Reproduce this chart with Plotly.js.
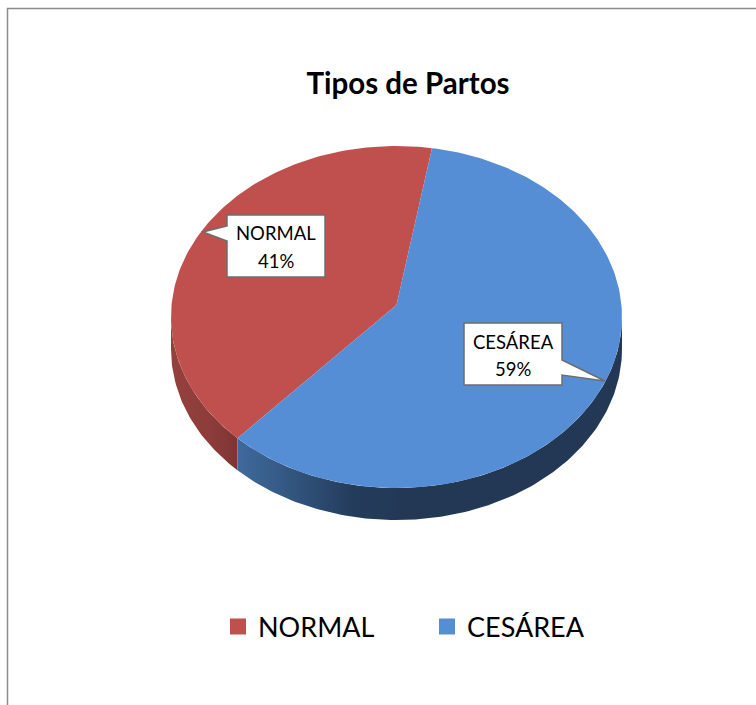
<!DOCTYPE html>
<html><head><meta charset="utf-8">
<script src="https://cdn.plot.ly/plotly-3.0.1.min.js"></script>
<style>html,body{margin:0;padding:0;background:#fff}</style></head>
<body><div id="chart" style="width:756px;height:705px"></div>
<script>
const categories = ['NORMAL', 'CESÁREA'];
const shares = [41, 59];
const sliceColors = ['#C0504D', '#558ED5'];
const titleText = 'Tipos de Partos';

// Tilted disc drawn on pixel-scaled axes
const CX = 396.5, CY = 317, RX = 225.5, RY = 171, DEPTH = 32, TILT = -0.07, START = 9.7;
function project(deg, drop) {
  const t = deg * Math.PI / 180, u = Math.sin(t), v = -Math.cos(t);
  const w = 1 + TILT * v;
  return [CX + RX * u * Math.sqrt(1 - TILT * TILT) / w, CY + RY * (v + TILT) / w + (drop || 0)];
}
function arc(a, b, drop) {
  const pts = [], n = Math.max(2, Math.ceil(Math.abs(b - a)));
  for (let i = 0; i <= n; i++) pts.push(project(a + (b - a) * i / n, drop));
  return pts;
}
function xy(pts) { return {x: pts.map(p => p[0]), y: pts.map(p => p[1])}; }
function base(pts, extra) {
  const c = xy(pts);
  return Object.assign({type: 'scatter', mode: 'lines', x: c.x, y: c.y, fill: 'toself',
    line: {width: 0}, hoverinfo: 'skip', showlegend: false}, extra);
}
function extremeAngle(sign) {
  return sign > 0 ? Math.atan2(Math.sqrt(1 - TILT * TILT), TILT) * 180 / Math.PI
                  : 360 - Math.atan2(Math.sqrt(1 - TILT * TILT), TILT) * 180 / Math.PI;
}
const total = shares[0] + shares[1];
const normalSpan = 360 * shares[0] / total;
const bEnd = START + 360;
const bStart = bEnd - normalSpan;
const apex = [CX, CY + RY * TILT];
const rightX = extremeAngle(1), leftX = extremeAngle(-1);

const wallBlue = arc(rightX, bStart, 0).concat(arc(bStart, rightX, DEPTH));
const wallRed = arc(bStart, leftX, 0).concat(arc(leftX, bStart, DEPTH));
const topBlue = [apex].concat(arc(START, bStart, 0));
const topRed = [apex].concat(arc(bStart, bEnd, 0));

const traces = [
  base(wallRed, {fillcolor: '#8A3A38', fillgradient: {type: 'horizontal', colorscale: [[0, '#94403E'], [0.55, '#8E3D3B'], [1, '#7F3533']]}}),
  base(wallBlue, {fillcolor: '#223955', fillgradient: {type: 'horizontal', colorscale: [[0, '#3F6A9C'], [0.1, '#365C88'], [0.3, '#243C5C'], [0.45, '#223855'], [1, '#223855']]}}),
  base(topRed, {fillcolor: sliceColors[0]}),
  base(topBlue, {fillcolor: sliceColors[1]}),
  {type: 'scatter', mode: 'markers', name: categories[0], x: [null], y: [null], marker: {symbol: 'square', size: 16, color: sliceColors[0]}},
  {type: 'scatter', mode: 'markers', name: categories[1], x: [null], y: [null], marker: {symbol: 'square', size: 16, color: sliceColors[1]}}
];

const edge = {color: '#6E6E6E', width: 1.5};
const calloutN = 'M 227 215 L 325 215 L 325 277 L 227 277 L 227 241 L 203 232 L 227 226 Z';
const calloutC = 'M 464 323 L 562 323 L 562 360 L 605 381 L 562 375 L 562 385 L 464 385 Z';
function textLine(text, x, y) {
  return {xref: 'x', yref: 'y', x: x, y: y, xanchor: 'center', yanchor: 'middle', showarrow: false,
    text: text, font: {family: 'Lato, "Noto Sans", sans-serif', size: 18.5, color: '#000'}};
}
const layout = {
  width: 756, height: 705, margin: {l: 0, r: 0, t: 0, b: 0},
  paper_bgcolor: '#fff', plot_bgcolor: '#fff',
  title: {text: '<b>' + titleText + '</b>', x: 408 / 756, xanchor: 'center', y: 1 - 84 / 705, yanchor: 'middle',
    font: {family: 'Lato, "Noto Sans", sans-serif', size: 29.5, color: '#000'}},
  xaxis: {range: [0, 756], visible: false, fixedrange: true},
  yaxis: {range: [705, 0], visible: false, fixedrange: true},
  legend: {orientation: 'h', x: 218 / 756, xanchor: 'left', y: 1 - 627 / 705, yanchor: 'middle',
    entrywidth: 164, entrywidthmode: 'pixels',
    font: {family: 'Lato, "Noto Sans", sans-serif', size: 27, color: '#000'}, traceorder: 'normal', bgcolor: 'rgba(0,0,0,0)'},
  shapes: [
    {type: 'path', path: 'M 7.5 705 L 7.5 8.5 L 756 8.5', line: {color: '#8C8C8C', width: 1.5}, xref: 'x', yref: 'y', layer: 'below'},
    {type: 'path', path: calloutN, fillcolor: '#fff', line: edge, xref: 'x', yref: 'y'},
    {type: 'path', path: calloutC, fillcolor: '#fff', line: edge, xref: 'x', yref: 'y'}
  ],
  annotations: [
    textLine(categories[0], 276, 233), textLine(shares[0] + '%', 276, 261),
    textLine(categories[1], 513, 342), textLine(shares[1] + '%', 513, 369)
  ]
};
Plotly.newPlot('chart', traces, layout, {displayModeBar: false, staticPlot: true});
</script></body></html>
